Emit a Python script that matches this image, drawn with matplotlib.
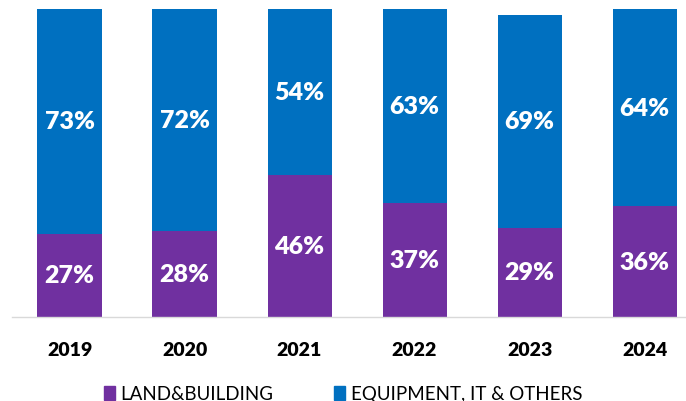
import matplotlib
matplotlib.use("Agg")
import matplotlib.pyplot as plt
import numpy as np
from matplotlib.patches import Patch

years = ["2019", "2020", "2021", "2022", "2023", "2024"]
land_building = [27, 28, 46, 37, 29, 36]
equipment_it = [73, 72, 54, 63, 69, 64]

purple = "#7030A0"
blue = "#0070C0"

plt.rcParams['font.family'] = ['Lato', 'DejaVu Sans']

fig = plt.figure(figsize=(6.86, 4.02), dpi=100)
ax = fig.add_axes([12 / 686, 1 - 318 / 402, 1 - 12 / 686, 308 / 402])

x = np.arange(len(years))
width = 0.557
ax.bar(x, land_building, width, color=purple)
ax.bar(x, equipment_it, width, bottom=land_building, color=blue)

for i in range(len(years)):
    ax.text(x[i], land_building[i] / 2, f"{land_building[i]}%", ha="center", va="center",
            color="white", fontsize=18, fontweight="heavy")
    ax.text(x[i], land_building[i] + equipment_it[i] / 2, f"{equipment_it[i]}%", ha="center",
            va="center", color="white", fontsize=18, fontweight="heavy")

ax.set_xlim(-0.5, 5.36)
ax.set_ylim(0, 100)
ax.set_xticks(x)
ax.set_xticklabels(years, fontsize=14, fontweight="heavy")
ax.tick_params(axis="x", length=0, pad=17)
ax.set_yticks([])
for side in ["top", "right", "left"]:
    ax.spines[side].set_visible(False)
ax.spines["bottom"].set_color("#D9D9D9")
ax.spines["bottom"].set_linewidth(1)

handles = [Patch(color=purple, label="LAND&BUILDING"),
           Patch(color=blue, label="EQUIPMENT, IT & OTHERS")]
fig.legend(handles=handles, loc="center", bbox_to_anchor=(0.5, 1 - 395 / 402), ncol=2,
           frameon=False, fontsize=13.5, handlelength=0.6, handleheight=0.7,
           handletextpad=0.3, columnspacing=3.2)

fig.savefig("out.png", dpi=100)
